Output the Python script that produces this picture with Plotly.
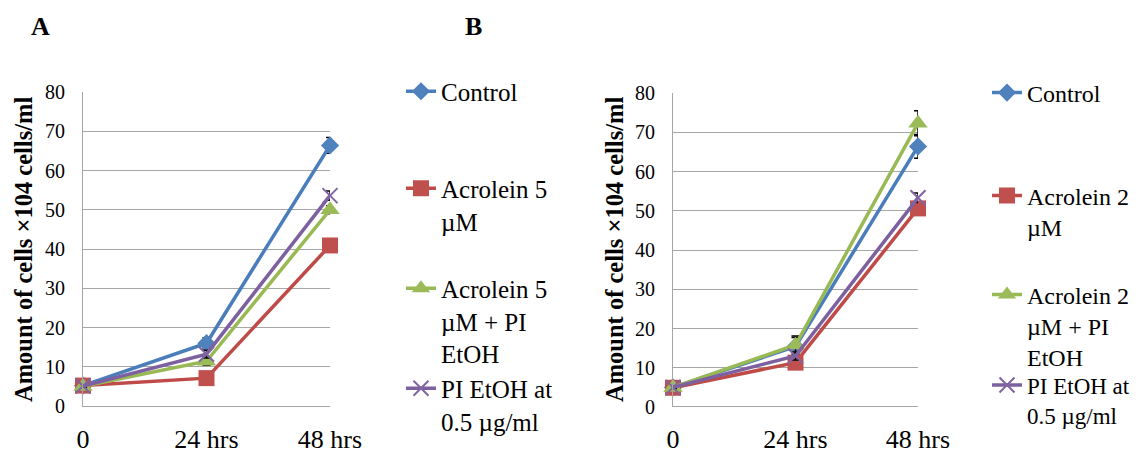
import plotly.graph_objects as go

W, H = 1140, 453

categories = ["0", "24 hrs", "48 hrs"]

# Panel A
a_names = ["Control", "Acrolein 5<br>µM", "Acrolein 5<br>µM + PI<br>EtOH", "PI EtOH at<br>0.5 µg/ml"]
a_control = [5.2, 16.0, 66.4]
a_acro = [5.2, 7.1, 40.9]
a_acro_pi = [5.0, 11.4, 50.0]
a_pi = [5.1, 13.2, 53.6]
a_err = [[0.3, 1.4, 2.0], [0.3, 0.8, 1.0], [0.3, 1.0, 1.0], [0.3, 1.0, 1.2]]

# Panel B
b_names = ["Control", "Acrolein 2<br>µM", "Acrolein 2<br>µM + PI<br>EtOH", "PI EtOH at<br>0.5 µg/ml"]
b_control = [5.0, 15.4, 66.4]
b_acro = [4.9, 11.3, 50.6]
b_acro_pi = [5.0, 15.8, 72.3]
b_pi = [5.0, 13.0, 53.3]
b_err = [[0.3, 2.3, 3.0], [0.3, 1.0, 1.0], [0.3, 2.3, 3.2], [0.3, 1.0, 1.2]]

y_ticks = [0, 10, 20, 30, 40, 50, 60, 70, 80]
y_title = "Amount of cells ×104 cells/ml"

line_colors = ["#4A7EBB", "#BE4B48", "#98B954", "#7D60A0"]
marker_colors = ["#4F81BD", "#C0504D", "#9BBB59", "#8064A2"]
symbols = ["diamond", "square", "triangle-up", "x-thin"]
sizes = [14, 16, 17, 15]

# centre of the first text line of each legend entry (px from top)
legend_lines_a = [93, 190, 290, 390]
legend_lines_b = [95, 198, 297, 388]
legend_sizes_a = [25, 25, 25, 25]
legend_sizes_b = [24, 24, 24, 23]

FONT = "Liberation Serif"

fig = go.Figure()
legend_layouts = {}

def add_panel(series, names, errs, xa, ya, leg_start, leg_x, lines, fsizes):
    for i, (vals, nm, er) in enumerate(zip(series, names, errs)):
        mk = dict(symbol=symbols[i], size=sizes[i], color=marker_colors[i],
                  line=dict(color=marker_colors[i], width=2 if symbols[i] == "x-thin" else 0))
        leg = "legend" if leg_start + i == 1 else "legend%d" % (leg_start + i)
        fig.add_trace(go.Scatter(
            x=categories, y=vals, name=nm, mode="lines+markers",
            line=dict(color=line_colors[i], width=3.5),
            marker=mk,
            error_y=dict(type="data", array=er, color="black", thickness=1.5, width=4),
            xaxis=xa, yaxis=ya, legend=leg,
            cliponaxis=False,
        ))
        legend_layouts[leg] = dict(
            x=leg_x / W, y=1 - (lines[i] - 24.5) / H,
            font=dict(family=FONT, size=fsizes[i], color="black"),
            valign="top", bgcolor="rgba(0,0,0,0)", xanchor="left", yanchor="top",
            itemclick=False, itemdoubleclick=False,
        )

add_panel([a_control, a_acro, a_acro_pi, a_pi], a_names, a_err, "x", "y", 1, 401,
          legend_lines_a, legend_sizes_a)
add_panel([b_control, b_acro, b_acro_pi, b_pi], b_names, b_err, "x2", "y2", 5, 987,
          legend_lines_b, legend_sizes_b)

def xaxis_cfg(x0, x1):
    return dict(domain=[x0 / W, x1 / W], type="category", range=[0, 2],
                showgrid=False, showline=True, linecolor="#A6A6A6", linewidth=1,
                ticks="", ticklabelstandoff=10, automargin=False,
                tickfont=dict(family=FONT, size=26, color="black"), fixedrange=True)

def yaxis_cfg(anchor, top, bottom):
    return dict(domain=[1 - bottom / H, 1 - top / H], range=[0, 80],
                tickvals=y_ticks, showgrid=True, gridcolor="#A6A6A6", gridwidth=1,
                showline=True, linecolor="#A6A6A6", linewidth=1, zeroline=False,
                ticks="", ticklabelstandoff=13, anchor=anchor, automargin=False,
                tickfont=dict(family=FONT, size=20, color="black"), fixedrange=True)

fig.update_layout(
    width=W, height=H, margin=dict(l=0, r=0, t=0, b=0, autoexpand=False),
    paper_bgcolor="white", plot_bgcolor="white",
    xaxis=xaxis_cfg(83, 330), yaxis=yaxis_cfg("x", 92, 406),
    xaxis2=xaxis_cfg(673, 918), yaxis2=yaxis_cfg("x2", 93, 407),
    showlegend=True,
    annotations=[
        dict(text="<b>A</b>", x=40 / W, y=1 - 27 / H, xref="paper", yref="paper",
             xanchor="center", yanchor="middle",
             showarrow=False, font=dict(family=FONT, size=26, color="black")),
        dict(text="<b>B</b>", x=473 / W, y=1 - 27 / H, xref="paper", yref="paper",
             xanchor="center", yanchor="middle",
             showarrow=False, font=dict(family=FONT, size=26, color="black")),
        dict(text="<b>" + y_title + "</b>", x=23 / W, y=1 - 250 / H, xref="paper", yref="paper",
             xanchor="center", yanchor="middle",
             textangle=-90, showarrow=False, font=dict(family=FONT, size=24.5, color="black")),
        dict(text="<b>" + y_title + "</b>", x=614 / W, y=1 - 250 / H, xref="paper", yref="paper",
             xanchor="center", yanchor="middle",
             textangle=-90, showarrow=False, font=dict(family=FONT, size=24.5, color="black")),
    ],
)
fig.update_layout(**legend_layouts)

fig.write_html("out.html")
